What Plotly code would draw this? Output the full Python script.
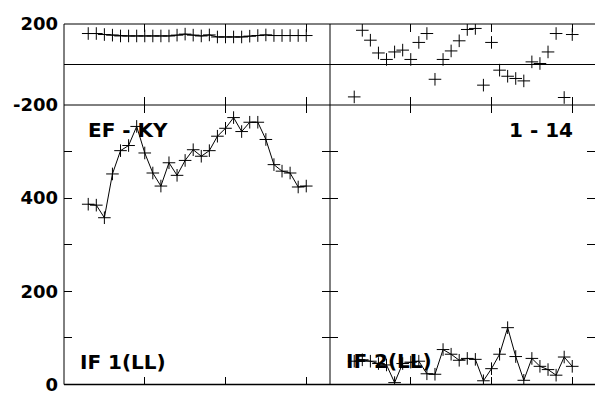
import plotly.graph_objects as go

# ---- data ----
x_vals = [3, 4, 5, 6, 7, 8, 9, 10, 11, 12, 13, 14, 15, 16, 17, 18, 19, 20,
          21, 22, 23, 24, 25, 26, 27, 28, 29, 30]
left_top = [153, 153, 148, 145, 141, 141, 141, 141, 141, 141, 141, 145, 150, 145,
            141, 146, 136, 136, 136, 136, 140, 143, 146, 143, 143, 143, 143, 143]
right_top = [-160, 169, 120, 57, 25, 62, 71, 25, 109, 153, -73, 25, 67, 117,
             173, 178, -102, 109, -28, -58, -69, -81, 13, 5, 62, 153, -163, 148]
left_main = [387, 385, 358, 452, 502, 513, 554, 497, 454, 426, 476, 449, 481, 504,
             490, 502, 533, 550, 573, 543, 563, 563, 526, 472, 458, 454, 424, 426]
right_main = [50, 53, 50, 45, 42, 4, 45, 48, 50, 23, 22, 75, 65, 52,
              56, 54, 8, 34, 65, 122, 60, 9, 56, 39, 32, 20, 59, 39]

x_ticks = [10, 20, 30]
top_tickvals = [-200, 0, 200]
top_ticktext = ["-200", "", "200"]
main_tickvals = [0, 100, 200, 300, 400, 500, 600]
main_ticktext = ["0", "", "200", "", "400", "", ""]

labels = ["EF - KY", "1 - 14", "IF 1(LL)", "IF 2(LL)"]

W, H = 595, 398
FONT = "DejaVu Sans"

# geometry (pixels)
x_left0, x_mid, x_right1 = 64, 330, 595
y_top, y_zero, y_split, y_bot = 24, 64.5, 105, 384.5
px_per_unit = 8.075


def fx(px):
    return px / W


def fy(py):
    return (H - py) / H


fig = go.Figure()

mk = dict(symbol="cross-thin", size=9, line=dict(width=1, color="black"), color="black")

fig.add_trace(go.Scatter(x=x_vals, y=left_main, mode="lines+markers", marker=mk,
                         line=dict(color="black", width=1), xaxis="x", yaxis="y"))
fig.add_trace(go.Scatter(x=x_vals, y=right_main, mode="lines+markers", marker=mk,
                         line=dict(color="black", width=1), xaxis="x2", yaxis="y2"))
fig.add_trace(go.Scatter(x=x_vals, y=left_top, mode="lines+markers", marker=mk,
                         line=dict(color="black", width=1), xaxis="x3", yaxis="y3"))
fig.add_trace(go.Scatter(x=x_vals, y=right_top, mode="markers", marker=mk,
                         xaxis="x4", yaxis="y4"))

common_x = dict(showline=False, ticks="inside", ticklen=8, tickwidth=1, tickcolor="black",
                tickvals=x_ticks, showticklabels=False, showgrid=False, zeroline=False,
                mirror="ticks")
common_y = dict(showline=False, ticks="inside", ticklen=8, tickwidth=1, tickcolor="black",
                showgrid=False, mirror="ticks", ticklabelstandoff=5,
                tickfont=dict(family=FONT, size=18, color="black", weight="bold"))

left_dom = [fx(x_left0), fx(x_mid)]
right_dom = [fx(x_mid), 1.0]
main_dom = [fy(y_bot), fy(y_split)]
top_dom = [fy(y_split), fy(y_top)]

left_range = [0, (x_mid - x_left0) / px_per_unit]
right_range = [0, (x_right1 - x_mid) / px_per_unit]

fig.update_layout(
    width=W, height=H,
    margin=dict(l=0, r=0, t=0, b=0, autoexpand=False),
    paper_bgcolor="white", plot_bgcolor="white",
    showlegend=False,
    xaxis=dict(domain=left_dom, range=left_range, anchor="y", **common_x),
    xaxis2=dict(domain=right_dom, range=right_range, anchor="y2", **common_x),
    xaxis3=dict(domain=left_dom, range=left_range, anchor="y3", **common_x),
    xaxis4=dict(domain=right_dom, range=right_range, anchor="y4", **common_x),
    yaxis=dict(domain=main_dom, range=[0, 600], anchor="x", tickvals=main_tickvals,
               ticktext=main_ticktext, zeroline=False, **common_y),
    yaxis2=dict(domain=main_dom, range=[0, 600], anchor="x2", tickvals=main_tickvals,
                showticklabels=False, zeroline=False, **common_y),
    yaxis3=dict(domain=top_dom, range=[-200, 200], anchor="x3", tickvals=top_tickvals,
                ticktext=top_ticktext, zeroline=True, zerolinecolor="black",
                zerolinewidth=1, **common_y),
    yaxis4=dict(domain=top_dom, range=[-200, 200], anchor="x4", tickvals=top_tickvals,
                showticklabels=False, zeroline=True, zerolinecolor="black",
                zerolinewidth=1, **common_y),
)

# frame lines
frame = [
    (x_left0, y_top, x_right1, y_top, 1),
    (x_left0, y_zero, x_right1, y_zero, 1),
    (x_left0, y_split, x_right1, y_split, 1),
    (x_left0, y_bot, x_right1, y_bot, 1.5),
    (x_left0, y_top, x_left0, y_bot, 1),
    (x_mid, y_top, x_mid, y_bot, 1),
]
for (a, b, c, d, w) in frame:
    fig.add_shape(type="line", xref="paper", yref="paper",
                  x0=fx(a), y0=fy(b), x1=fx(c), y1=fy(d),
                  line=dict(color="black", width=w), layer="above")

lab_font = dict(family=FONT, size=20, color="black", weight="bold")
fig.add_annotation(text=labels[0], xref="paper", yref="paper", x=fx(86), y=fy(130),
                   xanchor="left", yanchor="middle", showarrow=False, font=lab_font)
fig.add_annotation(text=labels[1], xref="paper", yref="paper", x=fx(575), y=fy(130),
                   xanchor="right", yanchor="middle", showarrow=False, font=lab_font)
fig.add_annotation(text=labels[2], xref="paper", yref="paper", x=fx(78), y=fy(362),
                   xanchor="left", yanchor="middle", showarrow=False, font=lab_font)
fig.add_annotation(text=labels[3], xref="paper", yref="paper", x=fx(344), y=fy(361),
                   xanchor="left", yanchor="middle", showarrow=False, font=lab_font)

fig.write_html("out.html", config={"displayModeBar": False},
               post_script="document.body.style.margin='0';")
